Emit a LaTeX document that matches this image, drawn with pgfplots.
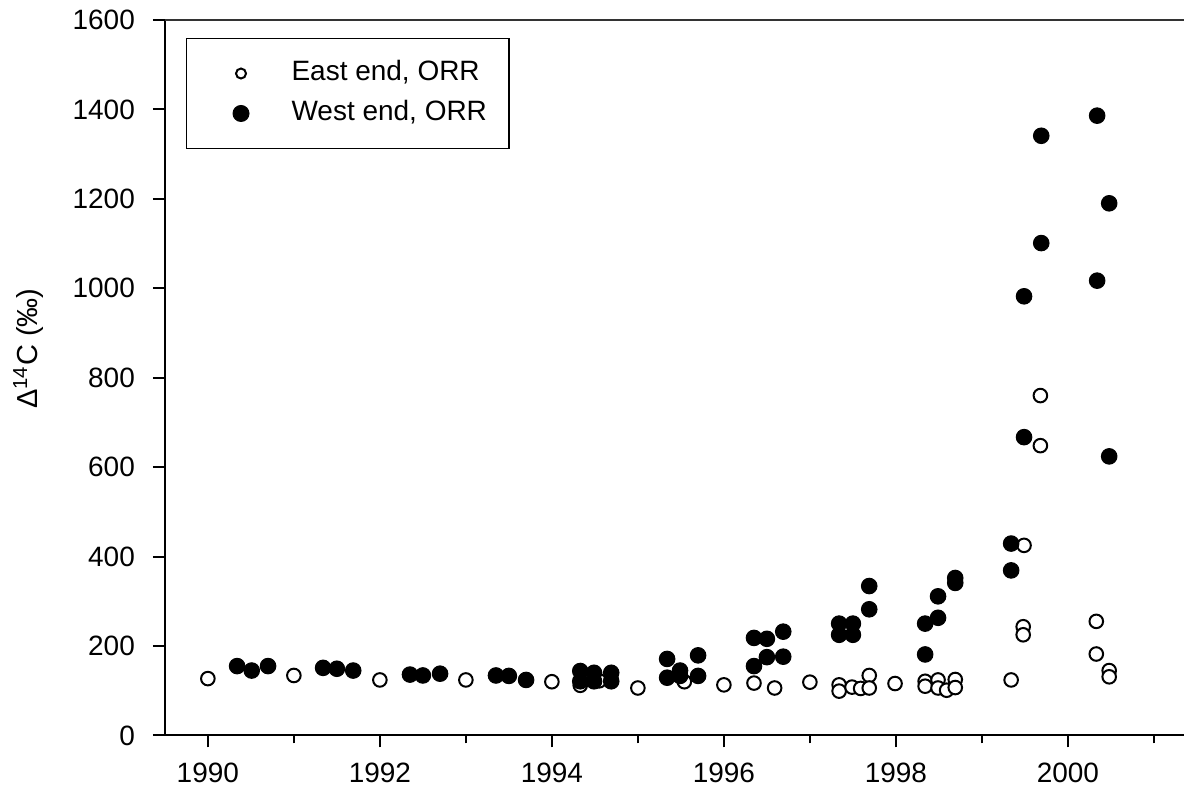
\documentclass[border=0pt]{standalone}
\usepackage{fontspec}
\setmainfont{Liberation Sans}
\usepackage{pgfplots}
\pgfplotsset{compat=1.18}
\begin{document}
\begin{tikzpicture}
\begin{axis}[
  scale only axis, width=510pt, height=358pt,
  xmin=1989.5, xmax=2001.35, ymin=0, ymax=1600,
  clip=false,
  axis x line*=bottom, axis y line*=left,
  axis line style={line width=1pt, black},
  xtick={1990,1992,...,2000}, minor xtick={1991,1993,...,2001},
  ytick={0,200,...,1600},
  tick align=outside, major tick length=6pt, minor tick length=4pt,
  every tick/.style={line width=1pt, black},
  x tick label style={/pgf/number format/.cd, 1000 sep={}},
  y tick label style={/pgf/number format/.cd, 1000 sep={}},
  xticklabel shift=4.5pt, yticklabel shift=5.5pt,
  tick label style={font=\fontsize{14}{16}\selectfont},
  /pgf/number format/assume math mode=true,
  legend cell align=left,
  legend style={at={(0.0206,0.9749)}, anchor=north west, draw=black, line width=0.6pt,
    inner xsep=9pt, inner ysep=11pt, row sep=7pt,
    nodes={inner xsep=2pt, inner ysep=0pt, text height=10pt, text depth=3pt},
    font=\fontsize{14}{16}\selectfont},
  legend image code/.code={\path (0pt,-4pt) (41pt,4pt); \draw[#1] plot coordinates {(18pt,0pt)};},
]
\coordinate (O) at (rel axis cs:0,0);
\addplot[only marks, mark=*, mark size=3.4pt, mark options={fill=white, draw=black, line width=1pt},
  legend image post style={mark size=2.5pt}] coordinates {
(1990.00,127) (1991.00,134) (1992.00,124) (1993.00,124) (1994.00,120)
(1994.33,112) (1994.55,122) (1994.69,124) (1995.00,106) (1995.54,120)
(1996.00,113) (1996.35,117) (1996.59,106) (1997.00,119)
(1997.34,113) (1997.34,99) (1997.49,108) (1997.59,105) (1997.69,134) (1997.69,106)
(1997.99,116) (1998.34,121) (1998.34,110) (1998.49,124) (1998.49,106) (1998.59,101)
(1998.69,125) (1998.69,107) (1999.34,124) (1999.49,425) (1999.48,243) (1999.48,225)
(1999.68,760) (1999.68,648) (2000.33,255) (2000.33,182) (2000.48,145) (2000.48,131)
};
\addlegendentry{East end, ORR}
\addplot[only marks, mark=*, mark size=3.9pt, mark options={fill=black, draw=black, line width=0.5pt},
  legend image post style={mark size=4pt}] coordinates {
(1990.34,155) (1990.51,145) (1990.70,155)
(1991.34,151) (1991.50,149) (1991.69,145)
(1992.35,136) (1992.50,134) (1992.70,138)
(1993.35,134) (1993.50,133) (1993.70,124)
(1994.33,144) (1994.33,121) (1994.49,140) (1994.49,121) (1994.69,140) (1994.69,121)
(1995.34,171) (1995.34,129) (1995.49,145) (1995.49,133) (1995.70,179) (1995.70,133)
(1996.35,218) (1996.35,155) (1996.50,216) (1996.50,175) (1996.69,232) (1996.69,176)
(1997.34,250) (1997.34,225) (1997.50,250) (1997.50,225) (1997.69,334) (1997.69,282)
(1998.34,250) (1998.34,181) (1998.49,311) (1998.49,263) (1998.69,352) (1998.69,341)
(1999.34,429) (1999.34,369) (1999.49,982) (1999.49,667)
(1999.69,1341) (1999.69,1101) (2000.34,1386) (2000.34,1017) (2000.48,1190) (2000.48,624)
};
\addlegendentry{West end, ORR}
\draw[line width=1pt, black!80] (rel axis cs:0,1) -- (rel axis cs:1,1);
\node[rotate=90, anchor=base, font=\fontsize{14.5}{16}\selectfont] at (axis cs:1988.02,865) {Δ\textsuperscript{14}C (‰)};
\end{axis}
\path (O) ++(-82.5pt,-31pt) rectangle ++(592.5pt,399pt);
\end{tikzpicture}
\end{document}
